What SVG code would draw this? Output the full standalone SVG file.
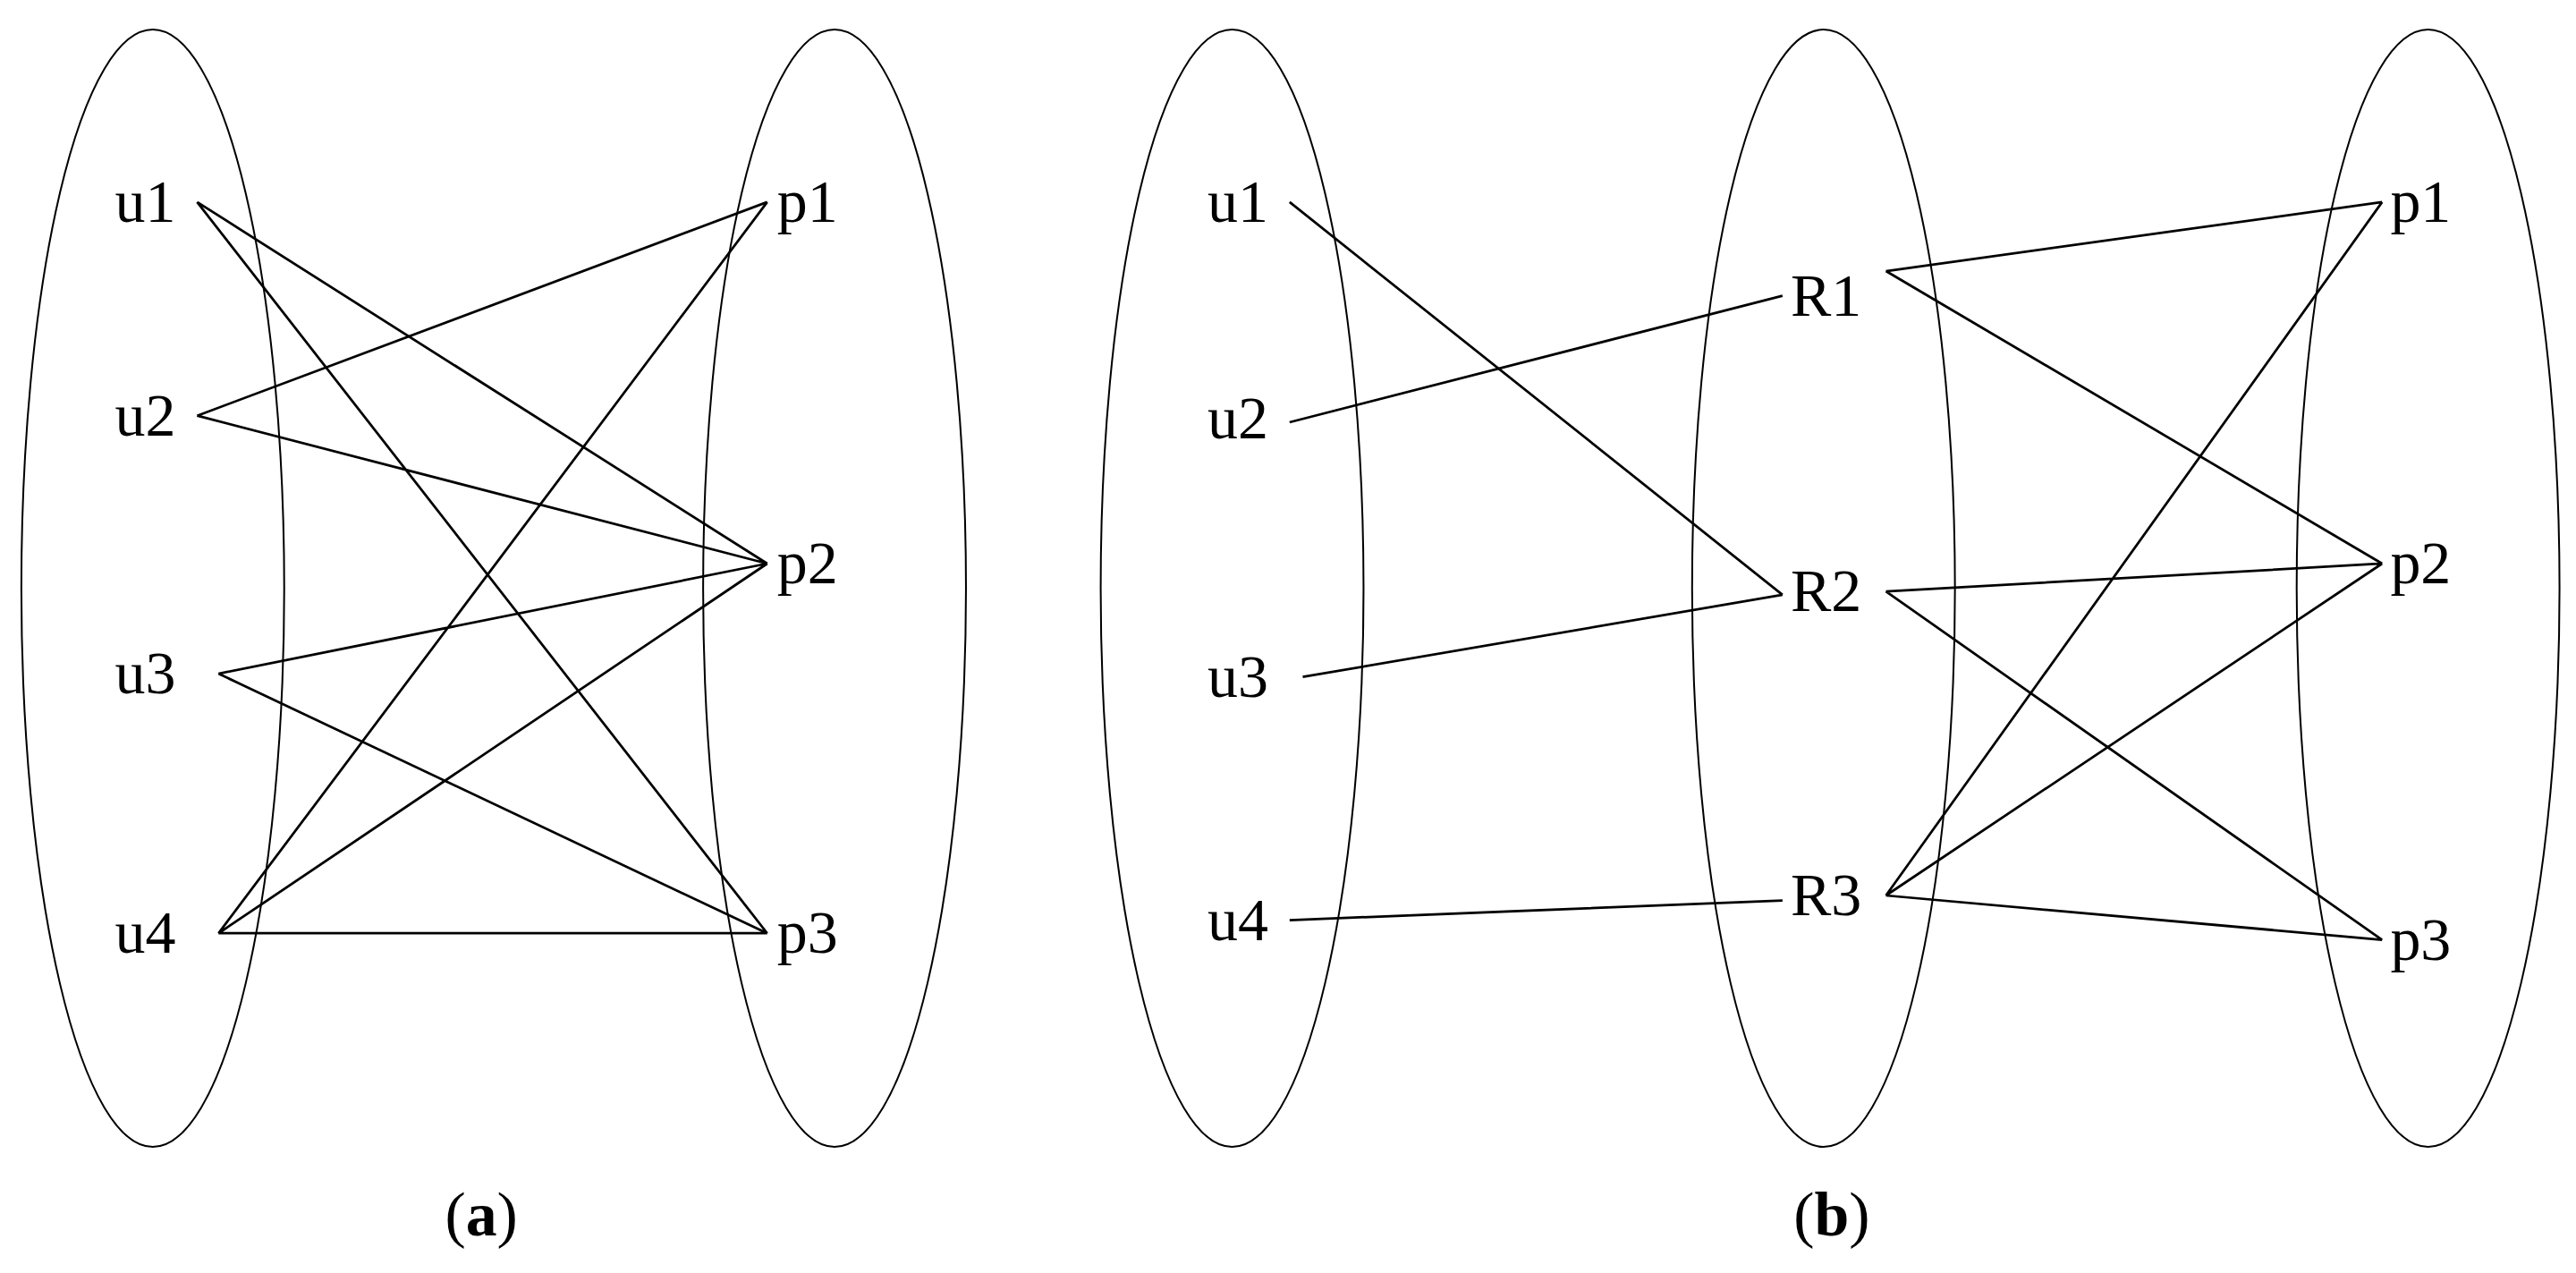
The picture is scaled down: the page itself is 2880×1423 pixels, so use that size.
<svg xmlns="http://www.w3.org/2000/svg" width="2880" height="1423" viewBox="0 0 2880 1423">
<style>
.e{fill:none;stroke:#000;stroke-width:1.1}
.l{stroke:#000;stroke-width:1.5;fill:none}
.t{font-family:"Liberation Serif",serif;font-size:37px;fill:#000}
.c{font-family:"Liberation Serif",serif;font-size:38px;fill:#000}
</style>
<rect width="2880" height="1423" fill="#fff"/>
<g transform="scale(1.8367)">
<g id="sets">
<ellipse class="e" cx="93" cy="358" rx="80" ry="340"/>
<ellipse class="e" cx="508" cy="358" rx="80" ry="340"/>
<ellipse class="e" cx="750" cy="358" rx="80" ry="340"/>
<ellipse class="e" cx="1110" cy="358" rx="80" ry="340"/>
<ellipse class="e" cx="1478" cy="358" rx="80" ry="340"/>
</g>
<g id="connectors">
<path class="l" d="M120 123L467 343M120 123L467 568M120 253L467 123M120 253L467 343M133 410L467 343M133 410L467 568M133 568L467 123M133 568L467 343M133 568L467 568"/>
<path class="l" d="M785 123L1085 362M785 257L1085 180M793 412L1085 362M785 560L1085 548M1148 165L1450 123M1148 165L1450 343M1148 360L1450 343M1148 360L1450 572M1148 545L1450 123M1148 545L1450 343M1148 545L1450 572"/>
</g>
<g id="u1"><text class="t" x="70" y="135">u1</text></g>
<g id="u2"><text class="t" x="70" y="265">u2</text></g>
<g id="u3"><text class="t" x="70" y="422">u3</text></g>
<g id="u4"><text class="t" x="70" y="580">u4</text></g>
<g id="p1"><text class="t" x="473" y="135">p1</text></g>
<g id="p2"><text class="t" x="473" y="355">p2</text></g>
<g id="p3"><text class="t" x="473" y="580">p3</text></g>
<g id="bu1"><text class="t" x="735" y="135">u1</text></g>
<g id="bu2"><text class="t" x="735" y="267">u2</text></g>
<g id="bu3"><text class="t" x="735" y="424">u3</text></g>
<g id="bu4"><text class="t" x="735" y="572">u4</text></g>
<g id="R1"><text class="t" x="1090" y="192">R1</text></g>
<g id="R2"><text class="t" x="1090" y="372">R2</text></g>
<g id="R3"><text class="t" x="1090" y="557">R3</text></g>
<g id="bp1"><text class="t" x="1455" y="135">p1</text></g>
<g id="bp2"><text class="t" x="1455" y="355">p2</text></g>
<g id="bp3"><text class="t" x="1455" y="584">p3</text></g>
<g id="captions">
<text class="c" x="293" y="752" text-anchor="middle">(<tspan font-weight="bold">a</tspan>)</text>
<text class="c" x="1115" y="752" text-anchor="middle">(<tspan font-weight="bold">b</tspan>)</text>
</g>
</g>
</svg>
